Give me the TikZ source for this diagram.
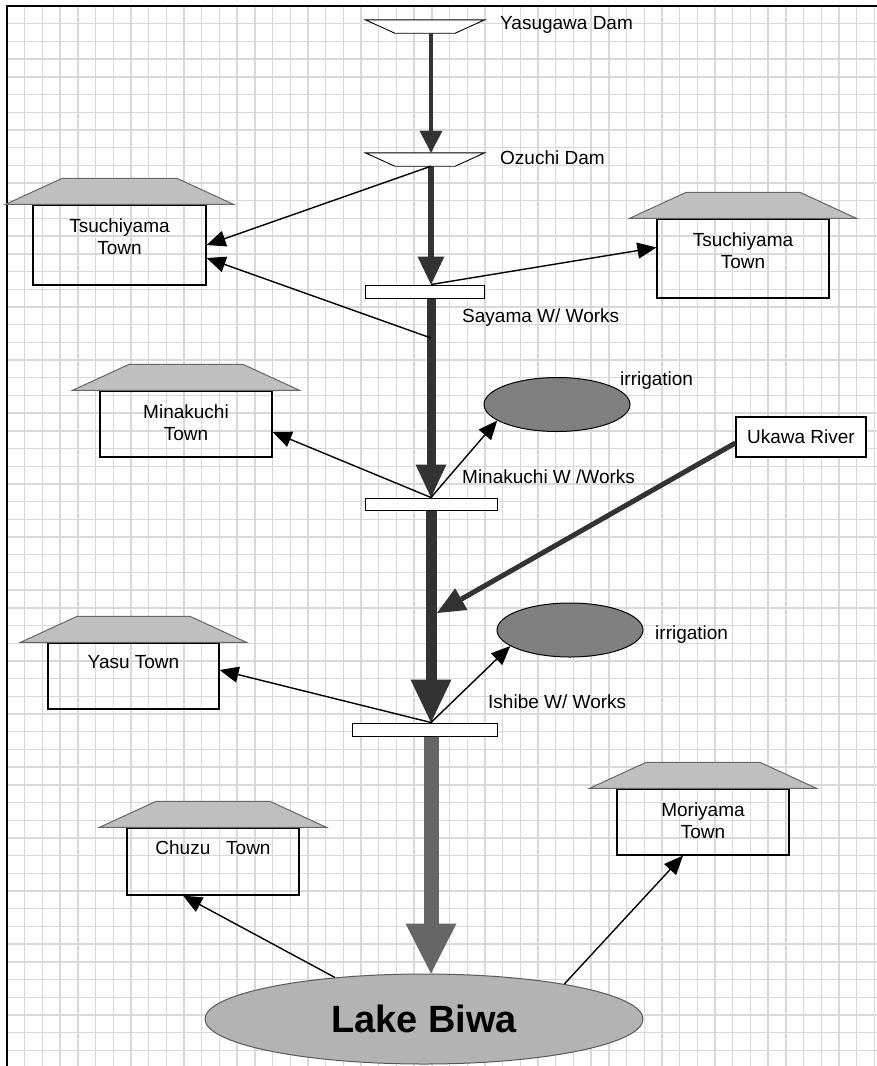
\documentclass[tikz,border=0pt]{standalone}
\usepackage{fontspec}
\setmainfont{Liberation Sans}
\usetikzlibrary{arrows.meta,shapes.geometric,positioning}

\definecolor{flowgray}{HTML}{333333}
\definecolor{lakeflow}{HTML}{666666}
\definecolor{roofgray}{HTML}{BFBFBF}
\definecolor{lakegray}{HTML}{B3B3B3}
\definecolor{irrgray}{HTML}{808080}
\definecolor{gridgray}{HTML}{D9D9D9}

\tikzset{
  gridline/.style={draw=gridgray, line width=1.4pt},
  lbl/.style={font=\fontsize{19}{22}\selectfont, anchor=west, inner sep=0pt},
  townname/.style={font=\fontsize{19}{22}\selectfont, align=center, anchor=north, inner sep=0pt},
  dam/.style={minimum width=119pt, minimum height=13pt, inner sep=0pt},
  damline/.style={draw, fill=white, line width=0.9pt, line join=miter},
  works/.style={draw, fill=white, minimum height=13pt, inner sep=0pt, line width=1pt},
  townbox/.style={draw, line width=1.2pt, minimum width=172pt, minimum height=66pt, inner sep=0pt},
  roof/.style={draw=black!60, fill=roofgray, line width=1pt},
  irr/.style={draw, fill=irrgray, ellipse, minimum width=146pt, minimum height=54pt, line width=1pt},
  flow/.style={draw=flowgray, line width=#1},
  feed/.style={draw=black, line width=1.4pt, -{Triangle[length=19pt,width=16pt]}},
}

% inverted trapezium of a dam, on a named node
\newcommand{\damshape}[1]{%
  \draw[damline] (#1.north west) -- (#1.north east) -- ([xshift=-29.5pt]#1.south east)
    -- ([xshift=29.5pt]#1.south west) -- cycle;}
% roof sitting on a town box
\newcommand{\roofon}[1]{%
  \draw[roof] ([xshift=-27pt]#1.north west) -- ([xshift=27pt]#1.north east)
    -- ([xshift=-29.5pt,yshift=26pt]#1.north east) -- ([xshift=29.5pt,yshift=26pt]#1.north west) -- cycle;}

\begin{document}
\begin{tikzpicture}[x=1pt, y=-1pt]
    \useasboundingbox (0,0) rectangle (877,1066);
    % Grid paper
    \foreach \gx in {1,...,49}
        \draw[gridline] ({7+17.7*\gx},6) -- ({7+17.7*\gx},1066);
    \foreach \gy in {1,...,59}
        \draw[gridline] (7,{6+17.7*\gy}) -- (877,{6+17.7*\gy});
    \draw[line width=2.3pt] (7,1066) -- (7,6) -- (877,6);

    \coordinate (spine) at (431,0);

    % Dams
    \node[dam] (ydam) at (425,26.5) {};
    \damshape{ydam}
    \node[lbl] at (500,25) {Yasugawa Dam};
    \node[dam] (odam) at (425,159.5) {};
    \damshape{odam}
    \node[lbl] at (500,158) {Ozuchi Dam};

    % Water works
    \node[works, minimum width=119pt] (sayama) at (424.5,291.5) {};
    \node[lbl] at (462,318) {Sayama W/ Works};
    \node[works, minimum width=132pt, minimum height=12pt] (minakuchi) at (431,504) {};
    \node[lbl] at (462,477) {Minakuchi W /Works};
    \node[works, minimum width=145pt] (ishibe) at (424.5,729.5) {};
    \node[lbl] at (488,702) {Ishibe W/ Works};

    % Towns
    \node[townbox, minimum width=173pt, minimum height=80pt] (tlbox) at (119.5,245) {};
    \roofon{tlbox}
    \node[townname] at ([yshift=-14pt]tlbox.north) {Tsuchiyama\\Town};

    \node[townbox, minimum height=79pt] (trbox) at (743,258.5) {};
    \roofon{trbox}
    \node[townname] at ([yshift=-14pt]trbox.north) {Tsuchiyama\\Town};

    \node[townbox] (mtbox) at (186,424) {};
    \roofon{mtbox}
    \node[townname] at ([yshift=-14pt]mtbox.north) {Minakuchi\\Town};

    \node[townbox, minimum width=171pt] (ytbox) at (133.5,676) {};
    \roofon{ytbox}
    \node[townname] at ([yshift=-13pt]ytbox.north) {Yasu Town};

    \node[townbox, minimum height=67pt] (czbox) at (213,861.5) {};
    \roofon{czbox}
    \node[townname] at ([yshift=-13pt]czbox.north) {Chuzu\ \ \ Town};

    \node[townbox] (mrbox) at (703,822) {};
    \roofon{mrbox}
    \node[townname] at ([yshift=-14pt]mrbox.north) {Moriyama\\Town};

    % Irrigation
    \node[irr] (irr1) at (557,404.5) {};
    \node[lbl] at (620,381) {irrigation};
    \node[irr] (irr2) at (570,630) {};
    \node[lbl] at (655,635) {irrigation};

    % Ukawa River
    \node[draw, fill=white, line width=1.2pt, minimum width=130pt, minimum height=40pt, inner sep=0pt,
        font=\fontsize{19}{22}\selectfont] (ukawa) at (801,437) {Ukawa River};
    \coordinate (junction) at (437,613);

    % Lake
    \node[draw=black!65, fill=lakegray, ellipse, line width=1pt, minimum width=438pt, minimum height=90pt,
        font=\fontsize{38}{40}\selectfont\bfseries] (lake) at (424,1019) {Lake Biwa};

    % Main stream
    \draw[flow=4pt, -{Triangle[length=22pt,width=23pt,line width=0pt]}] (ydam.south -| spine) -- (odam.north -| spine);
    \draw[flow=6pt, -{Triangle[length=28pt,width=27pt,line width=0pt]}] (odam.south -| spine) -- (sayama.north -| spine);
    \draw[flow=9pt, -{Triangle[length=33pt,width=31pt,line width=0pt]}] (sayama.south -| spine) -- (minakuchi.north -| spine);
    \draw[flow=11pt, -{Triangle[length=43pt,width=41pt,line width=0pt]}] (minakuchi.south -| spine) -- (ishibe.north -| spine);
    \draw[draw=lakeflow, line width=15pt, -{Triangle[length=50pt,width=51pt,line width=0pt]}] (ishibe.south -| spine) -- (lake.north -| spine);
    \draw[flow=5pt, -{Triangle[length=28pt,width=25pt,line width=0pt]}] ([yshift=-6pt]ukawa.west) -- (junction);

    % Supply to towns and fields
    \coordinate (tap) at (431,338);
    \draw[feed] (odam.south -| spine) -- (tlbox.east);
    \draw[feed] (tap) -- ([yshift=-13pt]tlbox.east);
    \draw[feed] (sayama.north -| spine) -- ([yshift=11pt]trbox.west);
    \draw[feed] (minakuchi.north -| spine) -- ([yshift=-8pt]mtbox.east);
    \draw[feed] (minakuchi.north -| spine) -- (irr1.195);
    \draw[feed] (ishibe.north -| spine) -- ([yshift=6pt]ytbox.east);
    \draw[feed] (ishibe.north -| spine) -- (irr2.195);
    \draw[feed] (lake.155.8) -- ([xshift=-30pt]czbox.south);
    \draw[feed] (lake.14.1) -- ([xshift=-20pt]mrbox.south);
\end{tikzpicture}
\end{document}
